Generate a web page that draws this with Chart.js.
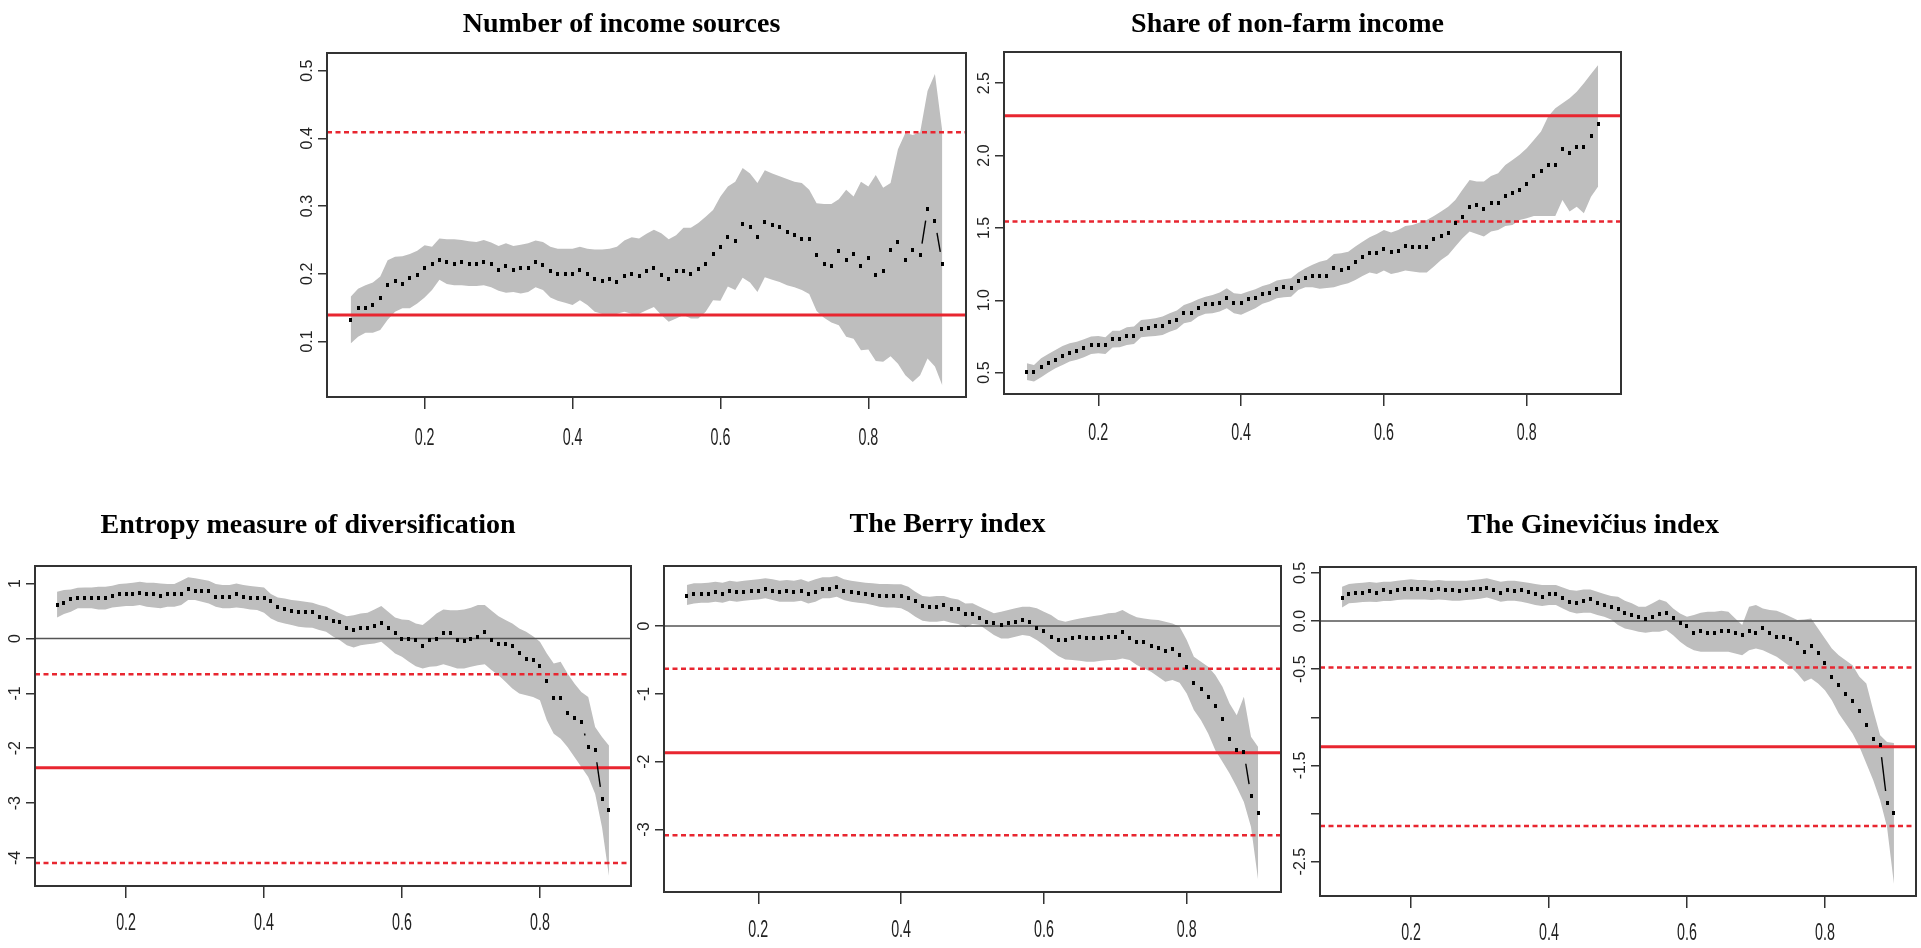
<!DOCTYPE html>
<html>
<head>
<meta charset="utf-8">
<script src="https://cdn.jsdelivr.net/npm/chart.js@4.4.1/dist/chart.umd.min.js"></script>
<style>
  html, body { margin: 0; padding: 0; background: #fff; }
  body { width: 1921px; height: 948px; position: relative; overflow: hidden; }
  canvas { position: absolute; }
</style>
</head>
<body>
<script>
// quantile grid (tau)
const xGrid = [0.10, 0.11, 0.12, 0.13, 0.14, 0.15, 0.16, 0.17, 0.18, 0.19,
  0.20, 0.21, 0.22, 0.23, 0.24, 0.25, 0.26, 0.27, 0.28, 0.29,
  0.30, 0.31, 0.32, 0.33, 0.34, 0.35, 0.36, 0.37, 0.38, 0.39,
  0.40, 0.41, 0.42, 0.43, 0.44, 0.45, 0.46, 0.47, 0.48, 0.49,
  0.50, 0.51, 0.52, 0.53, 0.54, 0.55, 0.56, 0.57, 0.58, 0.59,
  0.60, 0.61, 0.62, 0.63, 0.64, 0.65, 0.66, 0.67, 0.68, 0.69,
  0.70, 0.71, 0.72, 0.73, 0.74, 0.75, 0.76, 0.77, 0.78, 0.79,
  0.80, 0.81, 0.82, 0.83, 0.84, 0.85, 0.86, 0.87, 0.88, 0.89,
  0.90];
const xTicks = [0.2, 0.4, 0.6, 0.8];
const xMin = 0.068;
const xMax = 0.932;

// Number of income sources
const incomeMean = [0.132, 0.149, 0.149, 0.154, 0.164, 0.183, 0.189, 0.185, 0.193, 0.198,
  0.208, 0.215, 0.221, 0.218, 0.214, 0.217, 0.214, 0.214, 0.217, 0.214,
  0.206, 0.211, 0.206, 0.209, 0.209, 0.218, 0.213, 0.204, 0.200, 0.200,
  0.200, 0.206, 0.200, 0.192, 0.190, 0.192, 0.188, 0.196, 0.200, 0.197,
  0.204, 0.209, 0.198, 0.192, 0.204, 0.204, 0.200, 0.207, 0.215, 0.229,
  0.240, 0.255, 0.249, 0.274, 0.269, 0.254, 0.277, 0.272, 0.269, 0.261,
  0.257, 0.252, 0.252, 0.227, 0.215, 0.211, 0.233, 0.220, 0.229, 0.211,
  0.224, 0.198, 0.204, 0.235, 0.247, 0.220, 0.235, 0.227, 0.296, 0.278,
  0.215];
const incomeHigh = [0.166, 0.178, 0.183, 0.187, 0.196, 0.220, 0.225, 0.226, 0.229, 0.234,
  0.242, 0.240, 0.252, 0.251, 0.251, 0.250, 0.248, 0.247, 0.250, 0.246,
  0.241, 0.245, 0.241, 0.243, 0.245, 0.249, 0.247, 0.240, 0.237, 0.237,
  0.237, 0.240, 0.237, 0.236, 0.236, 0.237, 0.240, 0.249, 0.254, 0.252,
  0.259, 0.265, 0.260, 0.251, 0.257, 0.268, 0.268, 0.275, 0.284, 0.294,
  0.314, 0.329, 0.336, 0.356, 0.348, 0.334, 0.353, 0.348, 0.344, 0.340,
  0.336, 0.334, 0.324, 0.304, 0.303, 0.303, 0.310, 0.324, 0.314, 0.336,
  0.329, 0.346, 0.327, 0.334, 0.384, 0.408, 0.405, 0.409, 0.470, 0.495,
  0.410];
const incomeLow = [0.097, 0.107, 0.113, 0.113, 0.117, 0.132, 0.144, 0.149, 0.149, 0.156,
  0.165, 0.176, 0.191, 0.185, 0.183, 0.183, 0.182, 0.182, 0.183, 0.180,
  0.175, 0.172, 0.173, 0.171, 0.173, 0.180, 0.176, 0.165, 0.160, 0.157,
  0.154, 0.161, 0.154, 0.144, 0.141, 0.141, 0.141, 0.144, 0.141, 0.141,
  0.146, 0.151, 0.139, 0.129, 0.134, 0.139, 0.134, 0.134, 0.144, 0.161,
  0.160, 0.181, 0.176, 0.194, 0.187, 0.173, 0.195, 0.191, 0.188, 0.183,
  0.180, 0.176, 0.170, 0.145, 0.135, 0.128, 0.124, 0.107, 0.104, 0.087,
  0.088, 0.071, 0.070, 0.078, 0.067, 0.050, 0.040, 0.050, 0.075, 0.063,
  0.035];
const incomeSolid = [0.139];
const incomeDashed = [0.409];
const incomeYTicks = [0.1, 0.2, 0.3, 0.4, 0.5];
const incomeYLabels = ['0.1', '0.2', '0.3', '0.4', '0.5'];

// Share of non-farm income
const shareMean = [0.507, 0.502, 0.537, 0.564, 0.587, 0.615, 0.638, 0.652, 0.668, 0.691,
  0.691, 0.689, 0.735, 0.730, 0.753, 0.755, 0.804, 0.811, 0.820, 0.822,
  0.852, 0.864, 0.910, 0.915, 0.949, 0.972, 0.972, 0.984, 1.014, 0.984,
  0.984, 1.007, 1.014, 1.041, 1.053, 1.076, 1.090, 1.088, 1.134, 1.152,
  1.168, 1.168, 1.168, 1.221, 1.210, 1.221, 1.263, 1.301, 1.329, 1.329,
  1.352, 1.332, 1.343, 1.377, 1.366, 1.366, 1.366, 1.422, 1.447, 1.463,
  1.532, 1.578, 1.647, 1.659, 1.629, 1.675, 1.675, 1.723, 1.740, 1.762,
  1.804, 1.859, 1.896, 1.935, 1.935, 2.046, 2.016, 2.058, 2.058, 2.136,
  2.219];
const shareHigh = [0.565, 0.553, 0.599, 0.629, 0.657, 0.684, 0.703, 0.714, 0.730, 0.749,
  0.753, 0.744, 0.790, 0.790, 0.813, 0.818, 0.864, 0.869, 0.876, 0.887,
  0.910, 0.929, 0.968, 0.984, 1.007, 1.025, 1.037, 1.053, 1.083, 1.048,
  1.044, 1.060, 1.076, 1.099, 1.113, 1.136, 1.145, 1.152, 1.191, 1.221,
  1.245, 1.267, 1.279, 1.320, 1.325, 1.336, 1.371, 1.405, 1.435, 1.458,
  1.486, 1.468, 1.486, 1.514, 1.521, 1.537, 1.555, 1.583, 1.613, 1.647,
  1.693, 1.763, 1.832, 1.820, 1.820, 1.859, 1.878, 1.935, 1.970, 2.005,
  2.051, 2.108, 2.166, 2.270, 2.327, 2.362, 2.396, 2.442, 2.500, 2.564,
  2.627];
const shareLow = [0.449, 0.438, 0.468, 0.500, 0.530, 0.553, 0.576, 0.588, 0.606, 0.629,
  0.634, 0.629, 0.673, 0.675, 0.691, 0.698, 0.744, 0.749, 0.753, 0.760,
  0.783, 0.799, 0.841, 0.852, 0.887, 0.906, 0.910, 0.922, 0.945, 0.910,
  0.899, 0.922, 0.945, 0.975, 0.991, 1.014, 1.021, 1.025, 1.071, 1.090,
  1.090, 1.080, 1.085, 1.090, 1.106, 1.117, 1.140, 1.168, 1.191, 1.182,
  1.205, 1.182, 1.191, 1.205, 1.198, 1.191, 1.191, 1.233, 1.279, 1.313,
  1.371, 1.429, 1.475, 1.458, 1.440, 1.475, 1.486, 1.514, 1.521, 1.555,
  1.567, 1.583, 1.583, 1.583, 1.583, 1.693, 1.613, 1.647, 1.601, 1.716,
  1.786];
const shareSolid = [2.276];
const shareDashed = [1.545];
const shareYTicks = [0.5, 1.0, 1.5, 2.0, 2.5];
const shareYLabels = ['0.5', '1.0', '1.5', '2.0', '2.5'];

// Entropy measure of diversification
const entropyMean = [0.608, 0.638, 0.711, 0.742, 0.742, 0.742, 0.742, 0.742, 0.772, 0.803,
  0.803, 0.803, 0.833, 0.803, 0.803, 0.772, 0.803, 0.803, 0.803, 0.900,
  0.870, 0.870, 0.870, 0.760, 0.760, 0.760, 0.803, 0.760, 0.742, 0.742,
  0.742, 0.681, 0.566, 0.535, 0.505, 0.474, 0.474, 0.474, 0.395, 0.365,
  0.316, 0.292, 0.182, 0.151, 0.182, 0.182, 0.225, 0.286, 0.182, 0.091,
  -0.019, -0.019, -0.031, -0.140, -0.031, -0.019, 0.091, 0.091, -0.031, -0.043,
  -0.019, 0.030, 0.121, -0.031, -0.110, -0.110, -0.140, -0.274, -0.378, -0.396,
  -0.500, -0.774, -1.084, -1.084, -1.352, -1.449, -1.521, -1.978, -2.039, -2.920,
  -3.121];
const entropyHigh = [0.851, 0.881, 0.893, 0.924, 0.930, 0.930, 0.942, 0.942, 0.960, 0.991,
  1.003, 1.015, 1.034, 1.015, 1.015, 1.003, 0.991, 0.991, 1.052, 1.113,
  1.095, 1.076, 1.052, 0.991, 0.973, 0.973, 1.003, 0.973, 0.954, 0.942,
  0.930, 0.809, 0.748, 0.730, 0.699, 0.687, 0.669, 0.650, 0.608, 0.578,
  0.520, 0.454, 0.406, 0.425, 0.454, 0.467, 0.529, 0.589, 0.486, 0.383,
  0.346, 0.334, 0.273, 0.243, 0.346, 0.454, 0.529, 0.516, 0.516, 0.529,
  0.559, 0.608, 0.608, 0.504, 0.406, 0.334, 0.273, 0.182, 0.121, 0.042,
  -0.062, -0.274, -0.457, -0.426, -0.639, -0.822, -0.974, -1.066, -1.613, -1.796,
  -1.948];
const entropyLow = [0.383, 0.444, 0.487, 0.548, 0.548, 0.548, 0.529, 0.529, 0.566, 0.578,
  0.590, 0.590, 0.608, 0.578, 0.566, 0.548, 0.578, 0.578, 0.608, 0.699,
  0.699, 0.669, 0.638, 0.578, 0.548, 0.548, 0.566, 0.548, 0.529, 0.517,
  0.468, 0.365, 0.304, 0.274, 0.243, 0.213, 0.201, 0.195, 0.152, 0.122,
  0.036, -0.031, -0.122, -0.165, -0.122, -0.104, -0.092, -0.062, -0.165, -0.274,
  -0.335, -0.426, -0.505, -0.548, -0.517, -0.505, -0.469, -0.505, -0.548, -0.548,
  -0.517, -0.487, -0.469, -0.578, -0.669, -0.791, -0.913, -1.004, -1.035, -1.066,
  -1.126, -1.491, -1.735, -1.826, -1.978, -2.161, -2.343, -2.526, -2.830, -3.439,
  -4.321];
const entropySolid = [-2.354];
const entropyDashed = [-0.651, -4.09];
const entropyYTicks = [-4, -3, -2, -1, 0, 1];
const entropyYLabels = ['-4', '-3', '-2', '-1', '0', '1'];

// The Berry index
const berryMean = [0.443, 0.468, 0.468, 0.468, 0.497, 0.468, 0.521, 0.497, 0.497, 0.521,
  0.521, 0.546, 0.521, 0.497, 0.521, 0.497, 0.521, 0.468, 0.497, 0.546,
  0.546, 0.571, 0.521, 0.497, 0.482, 0.468, 0.458, 0.443, 0.443, 0.443,
  0.443, 0.418, 0.369, 0.295, 0.275, 0.275, 0.310, 0.251, 0.251, 0.177,
  0.172, 0.123, 0.064, 0.039, 0.015, 0.039, 0.064, 0.089, 0.064, -0.025,
  -0.074, -0.157, -0.206, -0.206, -0.182, -0.157, -0.182, -0.182, -0.182, -0.157,
  -0.157, -0.093, -0.182, -0.231, -0.231, -0.295, -0.330, -0.369, -0.344, -0.428,
  -0.600, -0.846, -0.930, -1.043, -1.176, -1.372, -1.668, -1.830, -1.855, -2.504,
  -2.750];
const berryHigh = [0.605, 0.630, 0.630, 0.639, 0.654, 0.639, 0.669, 0.654, 0.669, 0.679,
  0.689, 0.703, 0.689, 0.669, 0.679, 0.669, 0.689, 0.654, 0.689, 0.718,
  0.718, 0.738, 0.689, 0.669, 0.654, 0.639, 0.630, 0.620, 0.620, 0.615,
  0.615, 0.580, 0.506, 0.443, 0.433, 0.443, 0.443, 0.408, 0.393, 0.334,
  0.335, 0.285, 0.236, 0.187, 0.211, 0.236, 0.261, 0.285, 0.285, 0.261,
  0.211, 0.162, 0.089, 0.064, 0.089, 0.113, 0.128, 0.148, 0.162, 0.187,
  0.197, 0.236, 0.177, 0.128, 0.113, 0.098, 0.089, 0.064, 0.039, -0.010,
  -0.206, -0.453, -0.526, -0.600, -0.723, -0.895, -1.141, -1.313, -1.043, -1.633,
  -1.781];
const berryLow = [0.310, 0.334, 0.344, 0.344, 0.359, 0.344, 0.374, 0.359, 0.374, 0.384,
  0.393, 0.408, 0.384, 0.359, 0.359, 0.359, 0.374, 0.334, 0.359, 0.408,
  0.408, 0.433, 0.384, 0.359, 0.344, 0.334, 0.310, 0.285, 0.275, 0.275,
  0.261, 0.211, 0.138, 0.079, 0.064, 0.064, 0.079, 0.049, 0.030, -0.020,
  0.030, 0.015, -0.059, -0.133, -0.182, -0.182, -0.157, -0.133, -0.147, -0.206,
  -0.280, -0.364, -0.443, -0.492, -0.502, -0.512, -0.526, -0.526, -0.512, -0.502,
  -0.502, -0.477, -0.502, -0.575, -0.625, -0.674, -0.748, -0.821, -0.797, -0.836,
  -0.993, -1.239, -1.387, -1.584, -1.830, -2.002, -2.174, -2.371, -2.592, -2.961,
  -3.748];
const berrySolid = [-1.869];
const berryDashed = [-0.628, -3.084];
const berryYTicks = [-3, -2, -1, 0];
const berryYLabels = ['-3', '-2', '-1', '0'];

// The Ginevičius index
const gineMean = [0.236, 0.278, 0.288, 0.295, 0.316, 0.295, 0.322, 0.301, 0.322, 0.333,
  0.336, 0.333, 0.333, 0.322, 0.333, 0.322, 0.322, 0.316, 0.322, 0.333,
  0.333, 0.347, 0.322, 0.295, 0.322, 0.316, 0.322, 0.301, 0.278, 0.253,
  0.278, 0.278, 0.243, 0.201, 0.184, 0.208, 0.225, 0.184, 0.166, 0.149,
  0.121, 0.087, 0.062, 0.045, 0.017, 0.045, 0.069, 0.087, 0.028, -0.017,
  -0.052, -0.121, -0.104, -0.121, -0.121, -0.104, -0.104, -0.128, -0.146, -0.101,
  -0.121, -0.069, -0.128, -0.163, -0.163, -0.187, -0.225, -0.319, -0.260, -0.336,
  -0.433, -0.586, -0.666, -0.760, -0.829, -0.933, -1.082, -1.221, -1.290, -1.890,
  -1.991];
const gineHigh = [0.357, 0.385, 0.392, 0.399, 0.406, 0.399, 0.409, 0.409, 0.420, 0.427,
  0.434, 0.427, 0.427, 0.420, 0.427, 0.420, 0.420, 0.420, 0.420, 0.427,
  0.434, 0.444, 0.427, 0.409, 0.420, 0.420, 0.409, 0.399, 0.385, 0.374,
  0.374, 0.374, 0.350, 0.322, 0.316, 0.329, 0.329, 0.305, 0.281, 0.260,
  0.253, 0.211, 0.184, 0.149, 0.149, 0.184, 0.225, 0.201, 0.132, 0.080,
  0.045, 0.062, 0.087, 0.097, 0.097, 0.107, 0.097, 0.028, -0.042, 0.149,
  0.166, 0.132, 0.114, 0.107, 0.080, 0.045, 0.010, 0.017, 0.028, -0.076,
  -0.180, -0.284, -0.354, -0.406, -0.458, -0.579, -0.649, -0.926, -1.186, -1.256,
  -1.266];
const gineLow = [0.142, 0.184, 0.191, 0.198, 0.201, 0.198, 0.208, 0.208, 0.218, 0.225,
  0.225, 0.225, 0.225, 0.218, 0.225, 0.218, 0.211, 0.211, 0.218, 0.225,
  0.232, 0.246, 0.225, 0.201, 0.211, 0.211, 0.201, 0.184, 0.166, 0.156,
  0.166, 0.166, 0.132, 0.097, 0.080, 0.087, 0.087, 0.062, 0.045, 0.017,
  -0.042, -0.076, -0.094, -0.111, -0.121, -0.111, -0.111, -0.094, -0.146, -0.215,
  -0.267, -0.302, -0.319, -0.319, -0.319, -0.319, -0.319, -0.336, -0.354, -0.302,
  -0.284, -0.302, -0.336, -0.371, -0.423, -0.475, -0.545, -0.631, -0.597, -0.649,
  -0.718, -0.822, -0.961, -1.065, -1.169, -1.307, -1.481, -1.654, -1.862, -2.140,
  -2.729];
const gineSolid = [-1.305];
const gineDashed = [-0.482, -2.129];
const gineYTicks = [-2.5, -2.0, -1.5, -1.0, -0.5, 0.0, 0.5];
const gineYLabels = ['-2.5', '', '-1.5', '', '-0.5', '0.0', '0.5'];

const zeroLine = [0];

const panels = [
  { title: 'Number of income sources', mean: incomeMean, low: incomeLow, high: incomeHigh,
    solid: incomeSolid, dashed: incomeDashed, zero: [], yTicks: incomeYTicks, yLabels: incomeYLabels,
    yMin: 0.018, yMax: 0.526, box: [327, 53, 966, 397], titleY: 24, xLabelDy: 48 },
  { title: 'Share of non-farm income', mean: shareMean, low: shareLow, high: shareHigh,
    solid: shareSolid, dashed: shareDashed, zero: [], yTicks: shareYTicks, yLabels: shareYLabels,
    yMin: 0.352, yMax: 2.716, box: [1004, 52, 1621, 394], titleY: 24, xLabelDy: 46 },
  { title: 'Entropy measure of diversification', mean: entropyMean, low: entropyLow, high: entropyHigh,
    solid: entropySolid, dashed: entropyDashed, zero: zeroLine, yTicks: entropyYTicks, yLabels: entropyYLabels,
    yMin: -4.51, yMax: 1.32, box: [35, 566, 631, 886], titleY: 525, xLabelDy: 44 },
  { title: 'The Berry index', mean: berryMean, low: berryLow, high: berryHigh,
    solid: berrySolid, dashed: berryDashed, zero: zeroLine, yTicks: berryYTicks, yLabels: berryYLabels,
    yMin: -3.92, yMax: 0.885, box: [664, 566, 1281, 892], titleY: 524, xLabelDy: 45 },
  { title: 'The Ginevičius index', mean: gineMean, low: gineLow, high: gineHigh,
    solid: gineSolid, dashed: gineDashed, zero: zeroLine, yTicks: gineYTicks, yLabels: gineYLabels,
    yMin: -2.857, yMax: 0.562, box: [1320, 567, 1916, 896], titleY: 525, xLabelDy: 44 },
];

const RED = 'rgb(232, 38, 48)';
const BAND = '#bebebe';
const GAP = 12;

// small tall dot, like R's point marks
const dot = document.createElement('canvas');
dot.width = 3;
dot.height = 4;
const dctx = dot.getContext('2d');
dctx.fillStyle = '#000';
dctx.fillRect(0, 0, 3, 4);

// type="b": lines only visible where the segment is longer than the gaps around the points
function gapDash(ctx) {
  const d = Math.hypot(ctx.p1.x - ctx.p0.x, ctx.p1.y - ctx.p0.y);
  if (d <= 2 * GAP) return [0, 100000];
  return [0, GAP, d - 2 * GAP, 100000];
}

function pts(ys) {
  return xGrid.map((x, i) => ({ x, y: ys[i] }));
}

function hline(v) {
  return [{ x: xMin, y: v }, { x: xMax, y: v }];
}

const framePlugin = {
  id: 'frame',
  afterDatasetsDraw(chart) {
    const { ctx, chartArea: a } = chart;
    ctx.save();
    ctx.strokeStyle = '#333';
    ctx.lineWidth = 2;
    ctx.strokeRect(a.left, a.top, a.right - a.left, a.bottom - a.top);
    ctx.restore();
  },
};

const labelPlugin = {
  id: 'rlabels',
  afterDraw(chart, args, opts) {
    const { ctx, chartArea: a, scales: { x, y } } = chart;
    ctx.save();
    ctx.fillStyle = '#222';
    ctx.font = '23px "Liberation Sans Narrow", "Liberation Sans", Arial, sans-serif';
    ctx.textAlign = 'center';
    ctx.textBaseline = 'alphabetic';
    x.ticks.forEach((t) => {
      ctx.save();
      ctx.translate(x.getPixelForValue(t.value), a.bottom + opts.xDy);
      ctx.scale(0.62, 1);
      ctx.fillText(t.value.toFixed(1), 0, 0);
      ctx.restore();
    });
    ctx.font = '16px "Liberation Sans", Arial, sans-serif';
    ctx.textBaseline = 'middle';
    y.ticks.forEach((t, i) => {
      ctx.save();
      ctx.translate(a.left - 19, y.getPixelForValue(t.value));
      ctx.rotate(-Math.PI / 2);
      ctx.fillText(opts.labels[i], 0, 0);
      ctx.restore();
    });
    ctx.restore();
  },
};

panels.forEach((p) => {
  const [l, t, r, b] = p.box;
  const W = r - l + 100;
  const H = b - t + 70 + 45 + 20;
  const cv = document.createElement('canvas');
  cv.width = W;
  cv.height = H;
  cv.style.left = (l - 50) + 'px';
  cv.style.top = (t - 70) + 'px';
  document.body.appendChild(cv);

  const lh = 28 * 1.2;
  const padTop = p.titleY + 1 - (t - 70) - lh / 2;

  const datasets = [
    { data: pts(p.low), borderWidth: 0, pointRadius: 0, fill: false, order: 5 },
    { data: pts(p.high), borderWidth: 0, pointRadius: 0, fill: '-1', backgroundColor: BAND, order: 5 },
  ];
  p.zero.forEach((v) => datasets.push({
    data: hline(v), borderColor: '#555', borderWidth: 1.5, pointRadius: 0, fill: false, order: 3,
  }));
  p.solid.forEach((v) => datasets.push({
    data: hline(v), borderColor: RED, borderWidth: 3, pointRadius: 0, fill: false, order: 2,
  }));
  p.dashed.forEach((v) => datasets.push({
    data: hline(v), borderColor: RED, borderWidth: 2.5, borderDash: [5, 3.5], pointRadius: 0, fill: false, order: 2,
  }));
  datasets.push({
    data: pts(p.mean),
    borderColor: '#000',
    borderWidth: 1.4,
    pointStyle: dot,
    pointRadius: 2,
    fill: false,
    order: 0,
    segment: { borderDash: gapDash },
  });

  new Chart(cv.getContext('2d'), {
    type: 'line',
    data: { datasets },
    plugins: [framePlugin, labelPlugin],
    options: {
      responsive: false,
      animation: false,
      devicePixelRatio: 1,
      layout: { padding: { left: 0, right: 50, top: 0, bottom: 20 } },
      plugins: {
        legend: { display: false },
        tooltip: { enabled: false },
        rlabels: { labels: p.yLabels, xDy: p.xLabelDy },
        title: {
          display: true,
          text: p.title,
          color: '#000',
          font: { family: '"Liberation Serif", "Times New Roman", serif', size: 28, weight: 'bold' },
          padding: { top: padTop, bottom: 70 - lh - padTop },
        },
      },
      scales: {
        x: {
          type: 'linear',
          min: xMin,
          max: xMax,
          afterBuildTicks: (s) => { s.ticks = xTicks.map((v) => ({ value: v })); },
          afterFit: (s) => { s.height = 45; },
          ticks: { display: false },
          border: { display: false },
          grid: { drawOnChartArea: false, drawTicks: true, tickLength: 12, color: '#333', lineWidth: 1.5 },
        },
        y: {
          type: 'linear',
          min: p.yMin,
          max: p.yMax,
          afterBuildTicks: (s) => { s.ticks = p.yTicks.map((v) => ({ value: v })); },
          afterFit: (s) => { s.width = 50; },
          ticks: { display: false },
          border: { display: false },
          grid: { drawOnChartArea: false, drawTicks: true, tickLength: 9, color: '#333', lineWidth: 1.5 },
        },
      },
    },
  });
});
</script>
</body>
</html>
